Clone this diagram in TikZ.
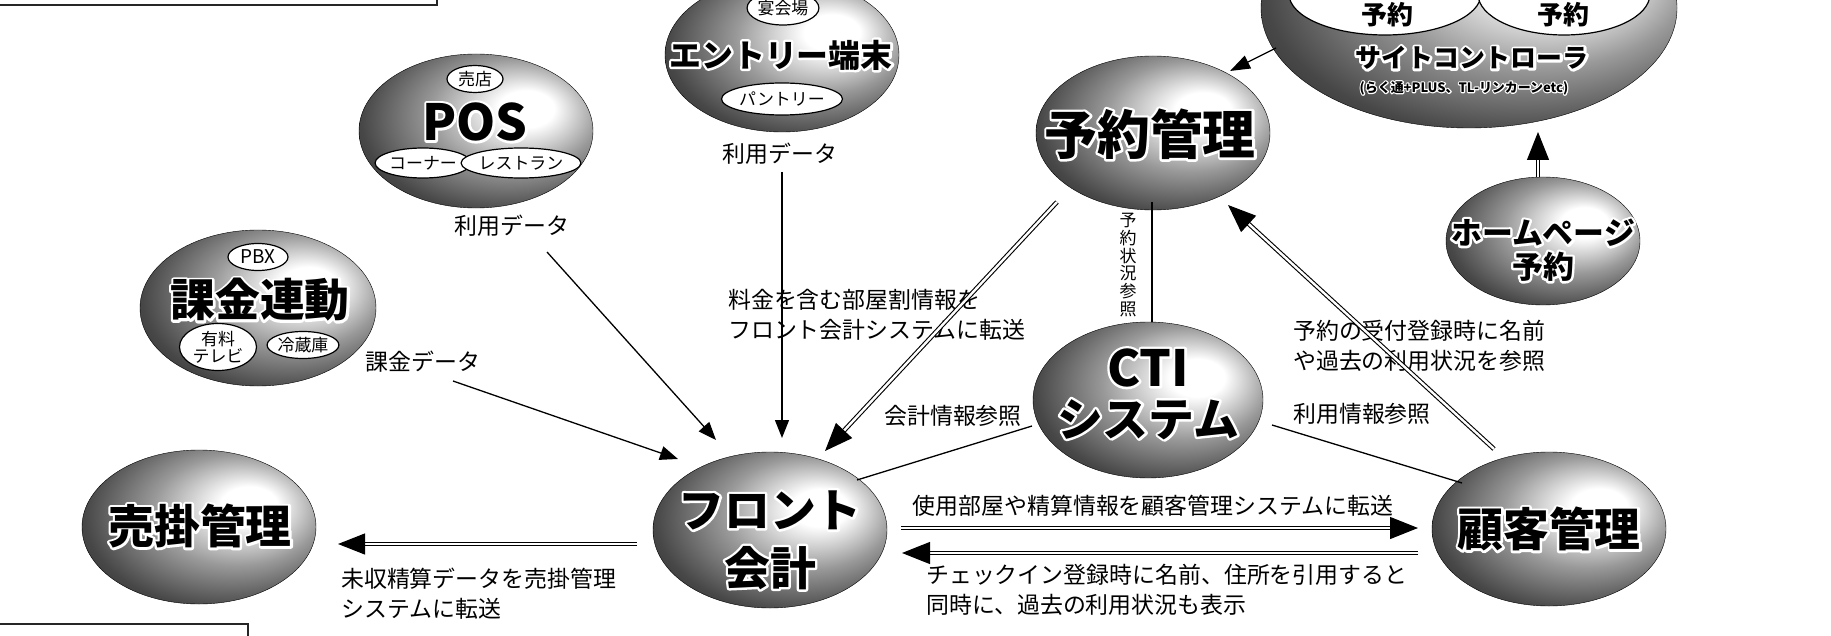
\documentclass[tikz,border=0pt]{standalone}
\usepackage{fontspec}
\setmainfont{Noto Sans CJK JP}
\usetikzlibrary{arrows.meta,shapes.geometric,calc}

\pgfdeclareradialshading{orbshade}{\pgfpoint{12bp}{8bp}}{%
 color(0bp)=(white); color(6bp)=(white); color(18bp)=(black!40);
 color(30bp)=(black!72); color(42bp)=(black!88); color(56bp)=(black)}

% white outline behind text: stroke copy, then normal fill
\newcommand\halo[2][4.8]{\leavevmode\rlap{\special{pdf:literal direct 1 Tr #1 w 1 J 1 j}{\color{white}#2}\special{pdf:literal direct 0 Tr}}#2}

\tikzset{
  orbnode/.style={ellipse, shading=orbshade, draw=black, line width=0.4bp, inner sep=0pt},
  tag/.style={ellipse, fill=white, draw=black, line width=1.2bp, inner sep=0pt, align=center,
              font=\fontsize{17}{18}\selectfont},
  lbl/.style={inner sep=0pt, align=left, font=\fontsize{23}{30}\selectfont},
  bigtxt/.style={inner sep=0pt, align=center, font=\bfseries\fontsize{46}{56}\selectfont},
  arr/.style={line width=1.3bp, -{Triangle[length=18bp,width=14bp]}},
  dbl/.style={draw=black, double=white, line width=1.1bp, double distance=2.4bp,
              -{Triangle[length=28bp,width=22bp]}},
  plainln/.style={line width=1.3bp},
  framebox/.style={line width=2bp, draw=black!85},
}

\begin{document}
\begin{tikzpicture}[x=1bp,y=-1bp]
\useasboundingbox (0,0) rectangle (1831,636);
\clip (0,0) rectangle (1831,636);

% partial frames at the edges
\draw[framebox] (-10,-10) rectangle (437,5);
\draw[framebox] (-10,624) rectangle (248,660);

% spheres
\node[orbnode, minimum width=234bp, minimum height=154bp] (pos) at (476,131) {};
\node[orbnode, minimum width=234bp, minimum height=154bp] (entry) at (782,55) {};
\node[orbnode, minimum width=234bp, minimum height=154bp] (yoyaku) at (1153,133) {};
\node[orbnode, minimum width=416bp, minimum height=240bp] (site) at (1469,8) {};
\node[orbnode, minimum width=194bp, minimum height=128bp] (hp) at (1543,241) {};
\node[orbnode, minimum width=236bp, minimum height=156bp] (kakin) at (258,308) {};
\node[orbnode, minimum width=234bp, minimum height=154bp] (urikake) at (199,527) {};
\node[orbnode, minimum width=234bp, minimum height=156bp] (front) at (770,530) {};
\node[orbnode, minimum width=230bp, minimum height=156bp] (cti) at (1148,400) {};
\node[orbnode, minimum width=234bp, minimum height=154bp] (kokyaku) at (1549,529) {};

% inner tags
\node[tag, minimum width=56bp, minimum height=27bp] (shop) at (475,79) {売店};
\node[tag, minimum width=85bp, minimum height=30bp] (corner) at (423,163) {コーナー};
\node[tag, minimum width=104bp, minimum height=30bp] (rest) at (521,163) {レストラン};
\node[tag, minimum width=70bp, minimum height=34bp] (banq) at (783,8) {宴会場};
\node[tag, minimum width=100bp, minimum height=32bp] (pantry) at (782,99) {パントリー};
\node[tag, minimum width=60bp, minimum height=27bp, font=\fontsize{19}{20}\selectfont] (pbx) at (258,257) {PBX};
\node[tag, minimum width=77bp, minimum height=47bp, font=\fontsize{17}{17}\selectfont] (tv) at (218,347) {有料\\テレビ};
\node[tag, minimum width=62bp, minimum height=27bp] (fridge) at (303,345) {冷蔵庫};
\node[tag, minimum width=192bp, minimum height=82bp] (yl) at (1385,-6) {};
\node[tag, minimum width=172bp, minimum height=82bp] (yr) at (1564,-6) {};
\node[inner sep=0pt, font=\bfseries\fontsize{26}{28}\selectfont] (ylT) at (1387,15) {予約};
\node[inner sep=0pt, font=\bfseries\fontsize{26}{28}\selectfont] (yrT) at (1563,15) {予約};

% big texts
\node[bigtxt, font=\bfseries\fontsize{50}{56}\selectfont] (posT) at (475,122) {\halo{POS}};
\node[bigtxt, font=\bfseries\fontsize{32}{36}\selectfont] (entryT) at (781,55) {\halo{エントリー端末}};
\node[bigtxt, font=\bfseries\fontsize{53}{60}\selectfont] (yoyakuT) at (1150,134) {\halo{予約管理}};
\node[bigtxt, font=\bfseries\fontsize{26}{30}\selectfont] (siteT) at (1472,58) {\halo{サイトコントローラ}};
\node[bigtxt, font=\bfseries\fontsize{13}{15}\selectfont] (siteS) at (1464,88) {\halo[2.4]{(らく通+PLUS、TL-リンカーンetc)}};
\node[bigtxt, font=\bfseries\fontsize{31}{34}\selectfont] (hpT) at (1543,250) {\halo{ホームページ}\\\halo{予約}};
\node[bigtxt, font=\bfseries\fontsize{45}{50}\selectfont] (kakinT) at (260,300) {\halo{課金連動}};
\node[bigtxt] (urikakeT) at (200,526) {\halo{売掛管理}};
\node[bigtxt, font=\bfseries\fontsize{46}{58}\selectfont] (frontT) at (770,540) {\halo{フロント}\\\halo{会計}};
\node[bigtxt, font=\bfseries\fontsize{46}{50}\selectfont] (ctiT) at (1148,394) {\halo{\fontsize{50}{50}\selectfont CTI}\\\halo{システム}};
\node[bigtxt] (kokyakuT) at (1549,529) {\halo{顧客管理}};

% labels
\node[lbl] (posdata) at (512,226) {利用データ};
\node[lbl] (entrydata) at (780,154) {利用データ};
\node[lbl] (kakindata) at (423,362) {課金データ};
\node[lbl, anchor=west] (ryokin) at (728,315) {料金を含む部屋割情報を\\フロント会計システムに転送};
\node[lbl] (kaikei) at (953,416) {会計情報参照};
\node[lbl] (riyou) at (1362,414) {利用情報参照};
\node[lbl, anchor=west] (yoyakuref) at (1293,346) {予約の受付登録時に名前\\や過去の利用状況を参照};
\node[lbl] (shiyou) at (1153,506) {使用部屋や精算情報を顧客管理システムに転送};
\node[lbl, anchor=west] (checkin) at (926,590) {チェックイン登録時に名前、住所を引用すると\\同時に、過去の利用状況も表示};
\node[lbl, anchor=west] (mishu) at (341,594) {未収精算データを売掛管理\\システムに転送};
\node[inner sep=0pt, align=center, font=\fontsize{17}{17.7}\selectfont] (joukyou) at (1128,265) {予\\約\\状\\況\\参\\照};

% connector end points
\coordinate (c1s) at (547,252);   \coordinate (c1e) at (716,440);
\coordinate (c2s) at (782,172);   \coordinate (c2e) at (782,438);
\coordinate (c3s) at (1057,202);  \coordinate (c3e) at (825,451);
\coordinate (c4s) at (453,381);   \coordinate (c4e) at (678,459);
\coordinate (c5s) at (1032,426);  \coordinate (c5e) at (857,480);
\coordinate (c6s) at (1152,202);
\coordinate (c7s) at (1494,449);  \coordinate (c7e) at (1228,205);
\coordinate (c8s) at (1272,425);  \coordinate (c8e) at (1462,483);
\coordinate (c9s) at (901,528);   \coordinate (c9e) at (1418,528);
\coordinate (c10s) at (1418,553); \coordinate (c10e) at (902,553);
\coordinate (c11s) at (637,544);  \coordinate (c11e) at (338,544);
\coordinate (c12s) at (1276,48);  \coordinate (c12e) at (1230,71);
\coordinate (c13e) at (1538,132);

% connectors
\draw[arr] (c1s) -- (c1e);
\draw[arr] (c2s) -- (c2e);
\draw[dbl] (c3s) -- (c3e);
\draw[arr] (c4s) -- (c4e);
\draw[plainln] (c5s) -- (c5e);
\draw[plainln] (c6s) -- (c6s |- cti.north);
\draw[dbl] (c7s) -- (c7e);
\draw[plainln] (c8s) -- (c8e);
\draw[dbl] (c9s) -- (c9e);
\draw[dbl] (c10s) -- (c10e);
\draw[dbl, -{Triangle[length=27bp,width=21bp]}] (c11s) -- (c11e);
\draw[arr, -{Triangle[length=20bp,width=14bp]}] (c12s) -- (c12e);
\draw[dbl] (hp.north -| c13e) -- (c13e);
\end{tikzpicture}
\end{document}
